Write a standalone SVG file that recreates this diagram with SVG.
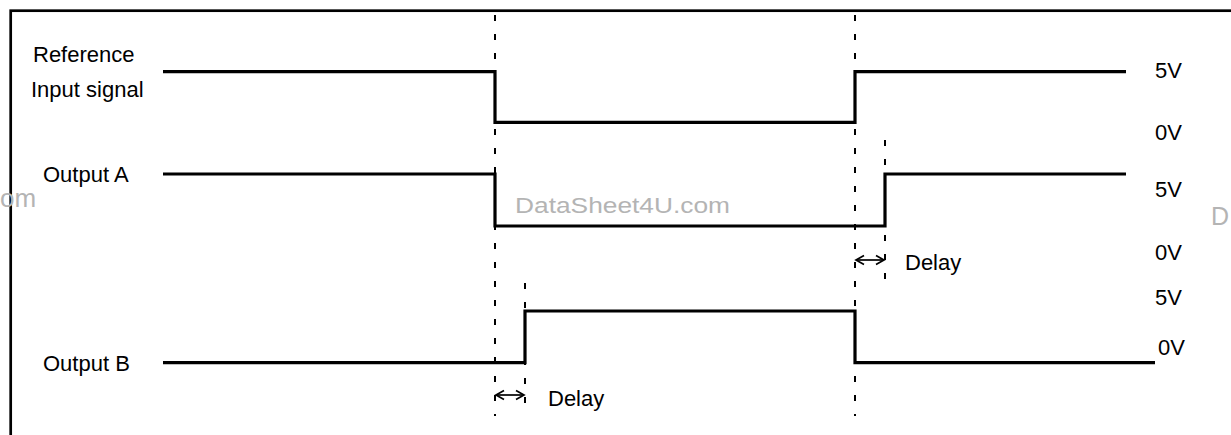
<svg xmlns="http://www.w3.org/2000/svg" width="1231" height="435" viewBox="0 0 1231 435">
<style>
.lbl{font-family:"Liberation Sans",Arial,sans-serif;font-size:22px;fill:#000}
.wm{font-family:"Liberation Sans",Arial,sans-serif;fill:#b4b4b4}
.sig{fill:none;stroke:#000;stroke-width:3.2;stroke-linejoin:miter;stroke-linecap:butt}
.dash{fill:none;stroke:#000;stroke-width:2;stroke-dasharray:6 13}
.arr{fill:none;stroke:#000;stroke-width:1.7}
</style>
<defs>
<marker id="ah" markerWidth="12" markerHeight="12" refX="9" refY="6" orient="auto-start-reverse" markerUnits="userSpaceOnUse">
<path d="M1,1.5 L9,6 L1,10.5" fill="none" stroke="#000" stroke-width="1.7"/>
</marker>
</defs>
<rect x="10.7" y="10.7" width="1300" height="500" fill="#fff" stroke="#000" stroke-width="2.7"/>
<g id="watermarks">
<text class="wm" x="515" y="213" font-size="22" textLength="215" lengthAdjust="spacingAndGlyphs">DataSheet4U.com</text>
<text class="wm" x="0" y="207" font-size="26">om</text>
<text class="wm" x="1211" y="225" font-size="25">D</text>
</g>
<g id="guides">
<line class="dash" x1="495" y1="15" x2="495" y2="416"/>
<line class="dash" x1="855" y1="15" x2="855" y2="416"/>
<line class="dash" x1="885" y1="140" x2="885" y2="282"/>
<line class="dash" x1="525" y1="283" x2="525" y2="416"/>
</g>
<g id="reference-signal">
<text class="lbl" x="33" y="62">Reference</text>
<text class="lbl" x="31" y="97">Input signal</text>
<polyline class="sig" points="163,71.7 495,71.7 495,122.3 855,122.3 855,71.7 1126,71.7"/>
<text class="lbl" x="1155" y="78">5V</text>
<text class="lbl" x="1155" y="140">0V</text>
</g>
<g id="output-a">
<text class="lbl" x="43" y="182">Output A</text>
<polyline class="sig" points="163,174 495,174 495,226 885,226 885,174 1126,174"/>
<text class="lbl" x="1155" y="197">5V</text>
<text class="lbl" x="1155" y="260">0V</text>
</g>
<g id="output-b">
<text class="lbl" x="43" y="371">Output B</text>
<polyline class="sig" points="163,362.7 525,362.7 525,311 855,311 855,362.7 1155,362.7"/>
<text class="lbl" x="1155" y="305">5V</text>
<text class="lbl" x="1158" y="355">0V</text>
</g>
<g id="connectors">
<line class="arr" x1="856" y1="260" x2="884" y2="260" marker-start="url(#ah)" marker-end="url(#ah)"/>
<text class="lbl" x="905" y="270">Delay</text>
<line class="arr" x1="496" y1="395" x2="524" y2="395" marker-start="url(#ah)" marker-end="url(#ah)"/>
<text class="lbl" x="548" y="406">Delay</text>
</g>
</svg>
